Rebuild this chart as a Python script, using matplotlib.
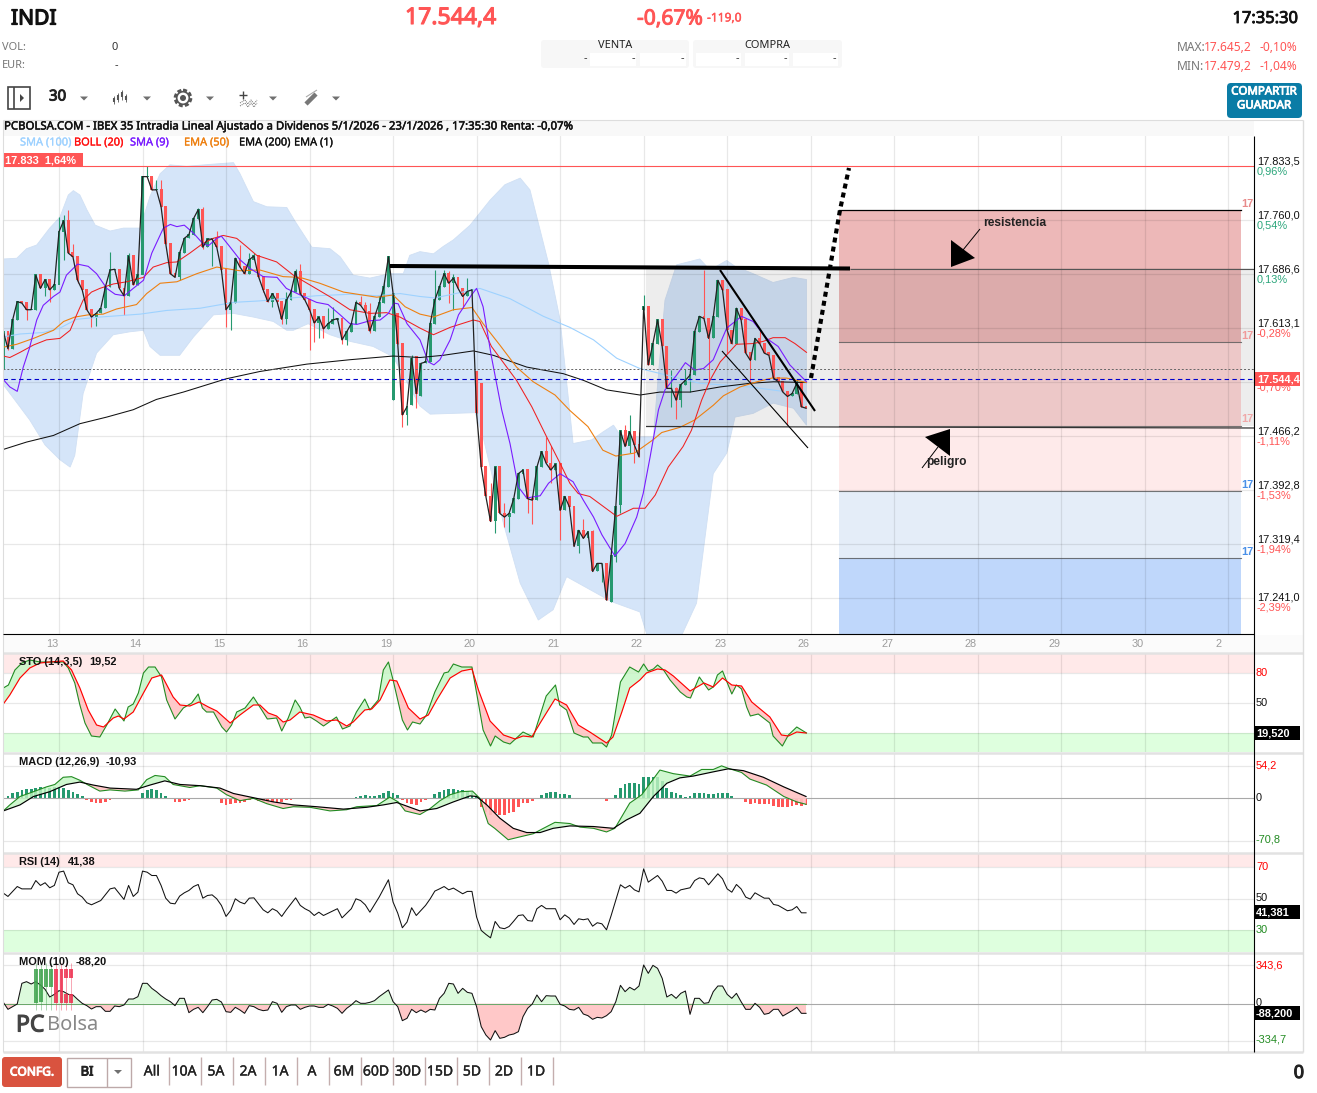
import numpy as np
import matplotlib
matplotlib.use('Agg')
import matplotlib.pyplot as plt
import matplotlib.patheffects as pe
from matplotlib.patches import FancyBboxPatch, Polygon, Rectangle, Circle

W, H = 1317, 1093
plt.rcParams['font.family'] = ['Liberation Sans', 'DejaVu Sans']

# closes per 30 min bar, 18 bars a day
closes = [17608, 17585, 17624, 17649, 17647, 17638, 17638, 17685, 17667, 17679,
          17665, 17672, 17744, 17759, 17715, 17710, 17678, 17665, 17638, 17628,
          17633, 17640, 17669, 17692, 17693, 17667, 17657, 17711, 17672, 17685,
          17819, 17819, 17801, 17801, 17778, 17728, 17687, 17682, 17715, 17735,
          17740, 17762, 17774, 17723, 17734, 17734, 17723, 17692, 17638, 17647,
          17708, 17696, 17687, 17706, 17711, 17683, 17665, 17649, 17660, 17649,
          17625, 17651, 17662, 17690, 17660, 17651, 17638, 17620, 17628, 17612,
          17619, 17624, 17626, 17597, 17608, 17619, 17648, 17644, 17635, 17609,
          17628, 17647, 17669, 17710, 17660, 17592, 17495, 17506, 17572, 17524,
          17565, 17567, 17619, 17651, 17669, 17687, 17674, 17681, 17667, 17656,
          17663, 17665, 17497, 17424, 17384, 17350, 17424, 17361, 17356, 17361,
          17381, 17415, 17420, 17381, 17379, 17424, 17445, 17429, 17420, 17428,
          17365, 17384, 17370, 17316, 17338, 17327, 17336, 17282, 17293, 17293,
          17243, 17304, 17370, 17473, 17452, 17472, 17454, 17438, 17642, 17563,
          17592, 17624, 17588, 17531, 17531, 17515, 17536, 17542, 17549, 17608,
          17629, 17626, 17599, 17628, 17678, 17665, 17610, 17592, 17640, 17624,
          17579, 17569, 17599, 17592, 17579, 17576, 17545, 17540, 17526, 17520,
          17524, 17538, 17506, 17504]
gap_bars = [0, 84, 85, 88, 89, 90, 102, 103, 131, 132, 133, 138]
gap_opens = [17556, 17515, 17633, 17508, 17574, 17521, 17554, 17538, 17241, 17302, 17372, 17638]
hi_bars = [12, 13, 14, 15, 23, 25, 26, 27, 31, 33, 34, 42, 43, 45, 46, 51, 53, 54, 61, 63, 64,
           70, 71, 76, 77, 78, 79, 81, 82, 88, 93, 95, 96, 97, 100, 105, 108, 117, 118, 120,
           122, 125, 127, 134, 135, 137, 138, 144, 145, 147, 151, 160, 163, 167, 171]
hi_vals = [17764, 17767, 17774, 17728, 17716, 17694, 17666, 17715, 17833, 17814, 17814, 17776,
           17778, 17733, 17745, 17726, 17715, 17715, 17662, 17694, 17700, 17640, 17642, 17651,
           17656, 17649, 17647, 17656, 17678, 17576, 17692, 17692, 17690, 17687, 17681, 17402,
           17375, 17465, 17452, 17424, 17384, 17354, 17338, 17481, 17495, 17472, 17658, 17556,
           17533, 17558, 17692, 17622, 17610, 17547, 17542]
lo_bars = [1, 2, 5, 9, 10, 12, 13, 16, 19, 20, 26, 30, 38, 43, 45, 48, 49, 56, 58, 60, 61, 66,
           67, 68, 69, 73, 74, 79, 86, 87, 89, 96, 97, 99, 106, 108, 109, 113, 114, 118, 120,
           124, 129, 131, 132, 133, 135, 136, 144, 145, 146, 148, 152, 156, 161, 169]
lo_vals = [17583, 17585, 17624, 17656, 17649, 17701, 17706, 17674, 17614, 17616, 17631, 17744,
           17678, 17721, 17697, 17615, 17611, 17662, 17642, 17619, 17619, 17583, 17594, 17599,
           17599, 17592, 17590, 17606, 17479, 17481, 17504, 17647, 17638, 17640, 17334, 17343,
           17336, 17361, 17347, 17402, 17325, 17307, 17268, 17241, 17295, 17361, 17443, 17429,
           17506, 17490, 17506, 17526, 17538, 17579, 17538, 17481]

sma9_x = [0, 1.4, 3, 4.3, 5.6, 7.2, 8.6, 10.8, 12.2, 13.6, 16, 18.3, 20.1, 22.3, 24.1, 26.1, 28, 30.2, 32, 34.5,
          36, 37.4, 39, 41, 43, 44.2, 46, 47, 48.9, 51, 53.2, 56, 59, 61, 64, 67.5, 70, 72.6, 74.7, 76.2,
          79, 81.2, 83, 84.2, 85.1, 87, 89.8, 91.6, 92.8, 94.1, 96.3, 98.1, 100.9, 102, 103.4, 105.2, 107.4,
          109.2, 111, 112.8, 115.7, 117.5, 120, 122.8, 125, 127.2, 129, 131.8, 134, 136.5, 137.9, 139.4,
          141.2, 142.6, 145.1, 147, 149, 150.9, 153, 155.9, 159.1, 161.6, 164.5, 167, 169.5, 173.1]
sma9_y = [17543, 17533, 17527, 17560, 17585, 17624, 17644, 17656, 17662, 17685, 17700, 17697, 17687, 17667, 17659,
          17657, 17667, 17678, 17715, 17749, 17754, 17751, 17753, 17742, 17728, 17725, 17735, 17738, 17723, 17706,
          17694, 17683, 17682, 17667, 17658, 17648, 17645, 17631, 17619, 17618, 17623, 17624, 17633, 17647, 17646,
          17619, 17597, 17567, 17563, 17570, 17597, 17631, 17658, 17667, 17642, 17574, 17502, 17456, 17397, 17382,
          17385, 17402, 17415, 17404, 17379, 17356, 17332, 17303, 17320, 17356, 17388, 17438, 17502, 17529, 17549,
          17566, 17556, 17558, 17570, 17613, 17629, 17622, 17599, 17588, 17563, 17540]
boll_x = [0, 1.4, 3.6, 6.5, 9.3, 12.2, 14.4, 15.8, 17.2, 19, 20.8, 23.7, 26.6, 30.2, 32.3, 35.2, 37.4, 40.2, 43, 45.2,
          47.4, 50.3, 52.4, 54.6, 58.9, 62.5, 66, 71.1, 74.7, 79, 82.6, 85.5, 89.8, 92.7, 96.3, 101.3, 102.7, 105.2,
          110.6, 113.9, 117.1, 120, 122.1, 123.9, 126.4, 132.2, 135.8, 138.3, 140.5, 143.3, 146.5, 148.3, 150.5,
          152.3, 154.5, 158, 161.6, 163.8, 165.9, 168.5, 170.6, 173.1]
boll_y = [17575, 17573, 17580, 17590, 17597, 17599, 17610, 17631, 17651, 17662, 17667, 17673, 17676, 17682, 17696,
          17702, 17703, 17715, 17728, 17735, 17739, 17735, 17724, 17712, 17703, 17685, 17672, 17653, 17638, 17633,
          17634, 17628, 17613, 17604, 17614, 17624, 17622, 17588, 17542, 17506, 17465, 17429, 17402, 17388, 17384,
          17357, 17368, 17368, 17386, 17424, 17452, 17474, 17515, 17542, 17567, 17591, 17592, 17595, 17600, 17600,
          17592, 17580]
ema50_x = [0, 2.9, 6.5, 10.8, 13, 15.4, 18.3, 21.5, 24.4, 28.7, 30.9, 33.8, 37.4, 41.7, 46, 51, 55.3, 60.3, 63.9, 68.2,
           73.3, 80.5, 84, 86.6, 89.8, 92.7, 97, 101, 103.4, 107, 110.6, 114.2, 118.9, 122.1, 126, 129.2, 132, 136,
           140, 141.9, 145.8, 149, 153, 155.2, 158.8, 162.4, 165.6, 168.8, 173.1]
ema50_y = [17587, 17591, 17599, 17610, 17622, 17628, 17631, 17632, 17639, 17645, 17660, 17674, 17676, 17687, 17696,
           17691, 17692, 17683, 17682, 17674, 17662, 17655, 17658, 17642, 17632, 17628, 17638, 17641, 17619, 17590,
           17560, 17540, 17522, 17501, 17479, 17447, 17439, 17443, 17461, 17471, 17478, 17488, 17508, 17521, 17533,
           17540, 17545, 17545, 17539]
ema200_x = [0, 5, 10.8, 16.5, 22.3, 28, 33, 38.8, 48, 55.3, 65.4, 74.7, 84, 89.8, 94.8, 101.3, 105.6, 112.8, 120.7,
            125, 130, 137.2, 141.5, 148, 154.5, 161, 166, 173.1]
ema200_y = [17448, 17458, 17467, 17483, 17492, 17502, 17516, 17526, 17544, 17554, 17564, 17570, 17575, 17573, 17576,
            17582, 17576, 17560, 17551, 17542, 17529, 17522, 17526, 17526, 17533, 17538, 17540, 17539]
sma100_x = [0, 3.6, 8.6, 12.2, 15.8, 20.8, 29.5, 35.2, 42.4, 49.6, 55.3, 60.3, 67.5, 74.7, 80.5, 85.5, 89.8, 93,
            102.7, 109.2, 116.4, 122.1, 127.2, 132.2, 137.2, 143, 150.1, 160.9, 168]
sma100_y = [17601, 17605, 17607, 17613, 17625, 17628, 17632, 17637, 17640, 17648, 17650, 17653, 17657, 17659, 17657,
            17660, 17656, 17654, 17667, 17653, 17629, 17614, 17597, 17572, 17558, 17549, 17538, 17533, 17527]
upper_x = [0, 2.9, 5, 7.2, 10, 12.2, 14, 15.1, 16.5, 18, 19.8, 23, 25.9, 29.5, 31.6, 33.8, 35.9, 39.5, 45.3, 49.6, 51,
           53.9, 56.8, 61.1, 62.9, 66.5, 70.4, 72.6, 75.4, 79, 83.3, 86.2, 87.6, 89.8, 92.7, 94.8, 97, 100.6, 104.9,
           108.1, 111.4, 113.5, 115.7, 117.5, 120, 122.8, 126.8, 129.3, 131.5, 132.9, 135.8, 140.1, 141.2, 142.6,
           145.1, 150.1, 152.3, 155.9, 157.7, 161.6, 165.9, 170.3, 173.1]
upper_y = [17707, 17708, 17721, 17726, 17749, 17764, 17794, 17800, 17794, 17774, 17753, 17745, 17749, 17749, 17792,
           17823, 17835, 17833, 17836, 17838, 17823, 17785, 17778, 17777, 17758, 17723, 17721, 17710, 17685, 17681,
           17687, 17687, 17712, 17717, 17714, 17724, 17733, 17753, 17787, 17808, 17817, 17801, 17746, 17701, 17624,
           17456, 17461, 17472, 17481, 17468, 17465, 17465, 17551, 17651, 17699, 17707, 17692, 17705, 17697, 17687,
           17675, 17682, 17679]
lower_x = [0, 2.5, 5.7, 9, 12.2, 14.4, 15.4, 17.2, 20.1, 23.7, 27.3, 30.2, 31.6, 33.8, 38, 41, 45.3, 49.6, 53.9, 58.2,
           61.1, 62.5, 65.7, 70.4, 74.7, 79.7, 84, 89.8, 92, 101.7, 103.4, 107.8, 111.4, 115.3, 118.5, 121.4, 131.1,
           137.2, 139, 145.8, 149.4, 153, 155.9, 157.7, 161.6, 165.9, 170.3, 173.1]
lower_y = [17536, 17515, 17488, 17454, 17434, 17424, 17440, 17524, 17579, 17604, 17608, 17610, 17588, 17576, 17576,
           17601, 17631, 17633, 17628, 17622, 17610, 17610, 17619, 17604, 17595, 17588, 17574, 17507, 17496, 17498,
           17465, 17347, 17266, 17216, 17230, 17275, 17241, 17227, 17190, 17190, 17239, 17415, 17443, 17492, 17497,
           17511, 17504, 17481]

# fibonacci zones on the right and the lines of the price grid
zone_levels = [17773, 17594, 17480, 17391, 17300, 17197]
zone_colors = ['#edb8b8', '#ffd8d8', '#feeaea', '#e4edf8', '#bfd7fb']
grid_prices = [17760.0, 17686.6, 17613.1, 17539.7, 17466.2, 17392.8, 17319.4, 17246.0]
price_labels = ['17.833,5', '17.760,0', '17.686,6', '17.613,1', '', '17.466,2', '17.392,8', '17.319,4', '17.241,0']
pct_labels = ['0,96%', '0,54%', '0,13%', '-0,28%', '', '-1,11%', '-1,53%', '-1,94%', '-2,39%']
label_rows = [161, 215, 269, 323, 377, 431, 485, 539, 597]
day_names = ['13', '14', '15', '16', '19', '20', '21', '22', '23', '26', '27', '28', '29', '30', '2']

sto_k_x = [0, 1.1, 2.5, 4, 5.7, 7.9, 10, 12.9, 14, 15.4, 16.5, 17.6, 19, 20.8, 22.3, 24.1, 26, 26.9, 28, 29.1, 30.2,
           31.3, 32.7, 34.1, 35.2, 37, 38.8, 40.6, 42, 42.9, 43.8, 45.3, 47.1, 48.1, 49.2, 50.3, 52.1, 53.9, 55.7,
           56.9, 58.9, 60, 61.4, 62.9, 63.9, 65, 66.1, 67.5, 69, 71.8, 73.1, 74.7, 76.1, 77.9, 79, 80.8, 81.9, 83,
           84, 86, 87.1, 88.2, 89.8, 91.2, 93, 95, 95.9, 97, 98.8, 101, 102, 103.4, 105, 106, 107.8, 109.2, 110.6,
           112, 114.2, 117, 119, 119.9, 121.4, 123, 125, 126, 127, 129, 130, 131.1, 133, 135, 136.9, 138, 139, 140.1,
           141, 142.3, 143.7, 145.9, 147.3, 148.1, 150, 152, 153, 153.9, 155, 157, 158, 159.1, 160.2, 161, 162.7,
           165.2, 165.9, 167.9, 169.2, 171, 173.1]
sto_k_y = [65, 68, 83, 90, 93, 91, 91, 91, 85, 70, 48, 30, 17, 16, 28, 44, 32, 46, 49, 60, 80, 86, 86, 76, 53, 34, 45,
           50, 59, 45, 41, 41, 26, 21, 28, 41, 45, 56, 43, 34, 35, 22, 35, 53, 46, 35, 36, 32, 27, 36, 24, 27, 41, 54,
           43, 53, 83, 91, 73, 33, 23, 31, 29, 38, 61, 80, 81, 89, 86, 86, 60, 23, 7, 17, 11, 9, 15, 21, 16, 57, 68,
           48, 43, 20, 16, 16, 10, 10, 6, 18, 71, 86, 81, 89, 82, 84, 88, 83, 73, 61, 56, 55, 76, 63, 66, 78, 82, 59,
           68, 64, 46, 37, 39, 30, 17, 7, 18, 26, 20]
sto_d_x = [0, 1.4, 3.6, 5.7, 7.9, 10, 12.9, 14.7, 16.5, 18.3, 20.1, 21.6, 23.7, 24.8, 26, 28, 30.2, 32, 34.1, 36.6,
           38.1, 40.2, 42.2, 44.2, 46, 48.9, 51, 53.9, 55.3, 57.1, 58.9, 60.3, 61.8, 63.9, 66.8, 69.7, 71.8, 74, 75.4,
           77.9, 79.4, 81.2, 83.3, 84.8, 87.3, 89.8, 91.6, 93.4, 96.3, 98.8, 101, 102.4, 104.9, 107.8, 110.3, 112,
           113.9, 115.7, 118.9, 121.4, 123.9, 126.4, 130, 131.4, 133.3, 135, 137.2, 138.6, 141, 142.6, 144.4, 148,
           151, 153, 155, 157, 159.1, 161.3, 165.2, 167.7, 169.2, 171, 173]
sto_d_y = [49, 58, 75, 85, 90, 91, 92, 83, 65, 43, 28, 26, 35, 37, 34, 41, 60, 75, 78, 56, 48, 47, 51, 46, 42, 30, 38,
           48, 48, 40, 37, 31, 33, 41, 38, 32, 33, 27, 31, 43, 44, 53, 73, 72, 45, 34, 38, 53, 75, 82, 84, 63, 32, 18,
           14, 17, 16, 30, 54, 48, 28, 21, 10, 16, 41, 65, 73, 80, 84, 83, 77, 62, 70, 66, 75, 68, 67, 51, 36, 18, 17,
           21, 20]

macd_x = [0, 1.4, 3.6, 6.5, 9.3, 11.1, 12.9, 14.7, 16.5, 18.3, 20.8, 23, 26.2, 29.1, 30.9, 32.7, 34.8, 36.6, 40.2, 42.4,
          46, 48.1, 51, 53.9, 56.8, 60.3, 62.5, 66.1, 70.4, 74, 76.2, 80.5, 83.3, 85.1, 86.6, 89.8, 92, 94.1, 96.3,
          98.5, 101.1, 102.7, 104.5, 105.9, 108.8, 112, 114.2, 116.4, 118.9, 122.1, 124.3, 127.2, 130, 131.8, 135,
          137.6, 141.5, 144.4, 148, 150.5, 153, 154.8, 156.2, 159.1, 160.9, 164.5, 168.2, 171, 173]
macd_y = [-21, -11, 3, 11, 19, 23, 35, 36, 30, 22, 12, 14, 12, 14, 31, 38, 36, 23, 18, 21, 17, 6, -4, 0, -9, -17, -14,
          -15, -21, -19, -14, -12, 2, -6, -21, -27, -17, -4, 6, 11, 12, 0, -42, -50, -69, -63, -59, -50, -40, -42, -48,
          -50, -56, -50, -8, 6, 47, 41, 37, 48, 48, 54, 50, 43, 32, 22, 3, -6, -10]
signal_x = [0, 3.6, 6.5, 10, 13.6, 16.5, 19.4, 23, 28.7, 31.6, 34.8, 38.1, 42.4, 46.7, 49.6, 53.9, 58.2, 62.5, 67.5, 73.3,
            78.3, 81.9, 84.8, 89.8, 93.4, 97, 100.6, 102, 104.2, 107, 109.9, 112.8, 115.7, 118.5, 122.1, 127.2, 131.5,
            134.3, 137.2, 140.1, 143, 145.8, 148.7, 153, 156.2, 159.5, 163.8, 168.2, 173]
signal_y = [-21, -11, 3, 11, 23, 27, 22, 17, 15, 22, 29, 23, 21, 17, 8, 1, -6, -11, -14, -18, -15, -11, -7, -21, -17, -6,
            4, 3, -11, -33, -50, -57, -57, -50, -46, -47, -50, -36, -25, 3, 25, 34, 37, 44, 49, 46, 35, 19, 3]
macd_hist = [0, 4.4, 8.3, 11, 14, 15, 15, 17, 18, 18, 17, 18, 18, 17, 14, 11, 7, 3, -3, -6, -8, -8, -6, -3, -2, -1, -2,
             -0.5, -1, -0.5, 9, 13, 15, 13, 9, 3, -0.5, -6, -6, -4, -3, -1, -0.5, -0.5, -1, -1, -2, -7, -11, -10, -8, -7,
             -6, -3, -1, -4, -6, -7, -6, -6, -6, -3, -3, 0, 0, 0, -0.5, -1, -2, -1, -0.5, -0.5, 0, 0, -0.5, 0, 2, 4, 5,
             4, 3, 5, 9, 12, 8, 5, -3, -8, -9, -11, -6, -3, 0, 7, 11, 14, 16, 16, 14, 13, 12, 11, 3, -14, -22, -27, -25,
             -28, -28, -25, -22, -15, -8, -7, -4, -2, 6, 8, 10, 10, 7, 7, 6, 0, 0, 0, -0.5, -0.5, -0.5, -1, -4, -1, 6, 17,
             23, 25, 25, 24, 35, 35, 35, 35, 29, 17, 11, 9, 6, 2, 3, 8, 9, 8, 7, 7, 8, 9, 8, 4, 0, -1, -6, -9, -8, -9, -9,
             -10, -12, -14, -14, -14, -12, -11, -12, -11]

rsi_x = [0, 1, 3, 4, 6, 7, 8, 9, 10, 11, 12, 13, 14, 15, 16, 17, 18, 19, 21, 23, 24, 26, 27, 28, 29, 30, 31, 32, 33, 34,
         35, 36, 37, 38, 39, 40, 41, 42, 43, 44, 45, 46, 47, 48, 49, 50, 51, 52, 53, 54, 55, 56, 57, 58, 59, 60, 61, 63,
         64, 65, 66, 67, 68, 69, 72, 73, 75, 76, 77, 78, 79, 81, 83, 84, 85, 86, 87, 88, 89, 90, 91, 92, 93, 94, 95, 96,
         97, 99, 100, 101, 102, 103, 104, 105, 106, 107, 108, 109, 110, 111, 112, 113, 114, 115, 116, 117, 119, 120, 121,
         122, 123, 124, 125, 126, 127, 128, 129, 130, 131, 133, 134, 135, 136, 137, 138, 139, 141, 142, 143, 144, 145,
         146, 148, 149, 150, 151, 152, 154, 155, 156, 157, 158, 159, 160, 161, 162, 164, 165, 166, 167, 169, 170, 171,
         172, 173]
rsi_y = [53.6, 51.5, 57.8, 56.3, 56.3, 61.6, 58.5, 60.2, 57, 58.5, 66.9, 67.6, 60.2, 58.9, 53.2, 51.1, 47.5, 46.2, 48.9,
         56.3, 57, 49.6, 58.5, 51.5, 54.2, 67.6, 66.9, 64.8, 64.8, 58.5, 50.4, 47.2, 46.8, 51.7, 53.8, 55.3, 57.8, 59.1,
         50.4, 52.1, 52.5, 50, 45.8, 38.8, 42.6, 50, 47.9, 46.8, 50.4, 50.6, 46.8, 43, 41.1, 43.7, 42.2, 38.8, 43, 50.6,
         45.8, 43.7, 42.2, 39.4, 41.5, 39.4, 43.7, 37.9, 43.7, 50, 48.9, 46.2, 41.5, 51.1, 62.1, 47.9, 40.9, 31.6, 35.2,
         44.3, 39.4, 42.6, 45.8, 50, 54.9, 56.3, 57.8, 55.7, 56.8, 53.2, 54.7, 54.7, 38.4, 29.9, 27.4, 25.2, 35.6, 31.6,
         31, 32.4, 35.8, 39.4, 39.8, 36.2, 35.8, 43.7, 45.8, 43.7, 43.7, 36.7, 39.8, 37.7, 33.7, 37.3, 36.7, 37.3, 32.6,
         34.8, 34.1, 30.3, 39.4, 58.9, 56.8, 58.5, 55.7, 54.4, 69, 60.6, 64.8, 61.2, 55.3, 55.3, 53.6, 55.7, 57, 61.6,
         63.3, 62.7, 58.9, 65.9, 62.7, 56.3, 54.2, 59.1, 56.3, 51.1, 49.8, 53.8, 50.4, 50.4, 46.4, 45.8, 42.4, 43, 45.1,
         41.1, 41.1]

mom = [12, -51, -27, -3, 183, 198, 177, 198, 168, 129, 60, 84, 117, 108, 84, 78, 39, 3, -18, -48, -27, -27, -69, -69, -21,
       -27, -12, 42, 42, 63, 183, 183, 138, 108, 72, 42, 18, -18, 48, 48, -81, -51, -33, -81, -27, 33, 39, 15, -72, -78,
       -33, -57, -87, -18, -27, -51, -63, -57, 18, 3, -78, -27, -12, -12, -51, -33, -21, -21, -33, -33, -6, -21, -42, -87,
       -42, -12, 27, 3, 3, 12, 27, 63, 93, 123, 18, -27, -153, -132, -51, -81, -57, -78, -51, -57, 48, 93, 183, 177, 93,
       138, 102, 93, -27, -207, -282, -327, -243, -312, -303, -282, -273, -252, -117, -42, -3, 78, 18, 72, 69, 69, -6, -21,
       -51, -57, -33, -93, -108, -141, -123, -129, -108, -72, 18, 165, 108, 147, 123, 159, 348, 273, 345, 318, 228, 60, 84,
       48, 93, 114, -96, 48, 48, 3, 9, 108, 159, 159, 84, 48, 93, 18, -51, -51, 3, -33, -96, -87, -51, -51, -111, -87, -63,
       -33, -87, -87]

RED = '#ff5555'
GREEN = '#26996f'
GRID = (0, 0, 0, 0.09)
BAR_PX = 4.64
X0_PX = 3.32
bars = np.arange(len(closes))
day_bars = np.arange(12, 265, 18)
x_left = (3 - X0_PX) / BAR_PX
x_right = (1254 - X0_PX) / BAR_PX

fig = plt.figure(figsize=(W / 100, H / 100), dpi=100, facecolor='white')


def panel(top, bottom, ylim):
    ax = fig.add_axes([3 / W, 1 - bottom / H, 1251 / W, (bottom - top) / H])
    ax.set_xlim(x_left, x_right)
    ax.set_ylim(*ylim)
    ax.set_xticks([])
    ax.set_yticks([])
    for s in ax.spines.values():
        s.set_visible(False)
    for d in day_bars:
        ax.axvline(d, color=GRID, lw=0.9, zorder=2)
    return ax


def two_tone(ax, xs, ys, base_x, base_y):
    # green where the line is over its base, red where it is under
    grid = np.linspace(0, 173, 1400)
    a = np.interp(grid, xs, ys)
    b = np.interp(grid, base_x, base_y)
    ax.fill_between(grid, a, b, where=a >= b, color='#c4f7c4', alpha=0.8, lw=0, zorder=3)
    ax.fill_between(grid, a, b, where=a < b, color='#ffc4c4', alpha=0.9, lw=0, zorder=3)


# ---- main price pane
ax = panel(120, 634, (17197, 17896))
ax.fill(upper_x + lower_x[::-1], upper_y + lower_y[::-1], facecolor='#d5e5f9', edgecolor='#d0e0f4', lw=0.6, zorder=1)
for i, c in enumerate(zone_colors):
    ax.fill_between([180.1, 266.7], zone_levels[i + 1], zone_levels[i], color=c, lw=0, zorder=1)
for p in grid_prices:
    ax.axhline(p, color=GRID, lw=0.9, zorder=2)
ax.fill_between([138.5, x_right], 17480, 17695, color='black', alpha=0.07, lw=0, zorder=2.5)

opens = np.array([closes[0]] + closes[:-1], dtype=float)
opens[gap_bars] = gap_opens
cl = np.array(closes, dtype=float)
highs = np.maximum(opens, cl)
lows = np.minimum(opens, cl)
highs[hi_bars] = hi_vals
lows[lo_bars] = lo_vals
colors = [GREEN if c >= o else RED for o, c in zip(opens, cl)]
ax.vlines(bars, lows, highs, colors=colors, lw=0.8, zorder=4)
ax.bar(bars, np.abs(cl - opens) + 1, bottom=np.minimum(opens, cl), width=0.62, color=colors, lw=0, zorder=4)

ax.plot(sma100_x, sma100_y, color='#9ed2ff', lw=0.8, zorder=5)
ax.plot(ema200_x, ema200_y, color='#111111', lw=0.75, zorder=5)
ax.plot(ema50_x, ema50_y, color='#ee8011', lw=0.8, zorder=5)
ax.plot(boll_x, boll_y, color='#f02020', lw=0.75, zorder=5)
ax.plot(sma9_x, sma9_y, color='#7a1cff', lw=0.8, zorder=5)
ax.plot(bars, closes, color='#222222', lw=0.9, zorder=6)
ax.axhline(17833.5, color=RED, lw=0.8, zorder=5)
ax.axhline(17544.4, color='#0000cc', lw=0.8, ls=(0, (4, 3)), zorder=5)
ax.axhline(17557, color='#666666', lw=0.7, ls=(0, (2, 2)), zorder=5)
for lv in zone_levels[1:-1]:
    ax.plot([180.1, 266.7], [lv, lv], color='#555555', lw=0.8, alpha=0.8, zorder=5)
ax.plot([180.1, 266.7], [zone_levels[0]] * 2, color='black', lw=0.9, zorder=5)
for d, name in zip(day_bars, day_names):
    ax.text(d - (2.1 if name == '2' else 1.5), -0.0195, name, transform=ax.get_xaxis_transform(),
            ha='center', va='center', fontsize=7.8, color='#111111')

# ---- STO
ax_sto = panel(653, 752, (1, 100))
ax_sto.axhspan(80, 100, color='#ffe9e9', lw=0, zorder=1)
ax_sto.axhspan(1, 20, color='#deffde', lw=0, zorder=1)
for v in [80, 50, 20]:
    ax_sto.axhline(v, color=GRID, lw=0.9, zorder=2)
two_tone(ax_sto, sto_k_x, sto_k_y, sto_d_x, sto_d_y)
ax_sto.plot(sto_k_x, sto_k_y, color='#228b22', lw=0.8, zorder=4)
ax_sto.plot(sto_d_x, sto_d_y, color='#ff0000', lw=0.85, zorder=5)

# ---- MACD
ax_macd = panel(753, 852, (-89.4, 75.4))
for v in [54.2, -70.8]:
    ax_macd.axhline(v, color=GRID, lw=0.9, zorder=2)
ax_macd.bar(bars, macd_hist, width=0.58, color=[GREEN if v >= 0 else RED for v in macd_hist], lw=0, zorder=3)
ax_macd.axhline(0, color='#a8a8a8', lw=0.8, zorder=3)
two_tone(ax_macd, macd_x, macd_y, signal_x, signal_y)
ax_macd.plot(macd_x, macd_y, color='#228b22', lw=0.8, zorder=4)
ax_macd.plot(signal_x, signal_y, color='black', lw=0.85, zorder=5)

# ---- RSI
ax_rsi = panel(853, 952, (16.2, 79.1))
ax_rsi.axhspan(70, 79.1, color='#ffe9e9', lw=0, zorder=1)
ax_rsi.axhspan(16.2, 30, color='#deffde', lw=0, zorder=1)
for v in [70, 50, 30]:
    ax_rsi.axhline(v, color=GRID, lw=0.9, zorder=2)
ax_rsi.plot(rsi_x, rsi_y, color='#111111', lw=0.75, zorder=5)

# ---- MOM
ax_mom = panel(953, 1052, (-435, 456))
for v in [343.6, -334.7]:
    ax_mom.axhline(v, color=GRID, lw=0.9, zorder=2)
ax_mom.fill_between(bars, mom, 0, where=np.array(mom) >= 0, interpolate=True, color='#dcfadc', lw=0, zorder=3)
ax_mom.fill_between(bars, mom, 0, where=np.array(mom) < 0, interpolate=True, color='#ffc8c8', lw=0, zorder=3)
ax_mom.axhline(0, color='#a8a8a8', lw=0.8, zorder=3)
ax_mom.plot(bars, [0] * len(bars), color='#6aa86a', lw=0.7, zorder=4)
ax_mom.plot(bars, mom, color='#111111', lw=0.75, zorder=5)

# ---- overlay in pixels: page furniture, hand drawn lines and all labels
ov = fig.add_axes([0, 0, 1, 1], zorder=20)
ov.set_xlim(0, W)
ov.set_ylim(H, 0)
ov.axis('off')
ov.patch.set_alpha(0)

HEAD = 'Noto Sans'


def t(x, y, s, px=11, color='black', ha='left', weight='normal', family=None, heavy=0):
    # Noto Sans only comes in one weight here, heavy thickens it with a stroke
    kw = {'family': family} if family else {}
    if family == HEAD:
        y = y + 1.5
    txt = ov.text(x, y, s, fontsize=px * 0.72, color=color, ha=ha, va='center', fontweight=weight, **kw)
    if heavy:
        txt.set_path_effects([pe.withStroke(linewidth=heavy, foreground=color)])
    return txt


def ln(xs, ys, color='black', lw=1.0, **kw):
    ov.plot(xs, ys, color=color, lw=lw, solid_capstyle=kw.pop('cap', 'butt'), **kw)


def rbox(x0, y0, x1, y1, fc, ec='none', r=3, lw=1.0):
    ov.add_patch(FancyBboxPatch((x0 + r, y0 + r), x1 - x0 - 2 * r, y1 - y0 - 2 * r,
                                boxstyle='round,pad=%d' % r, fc=fc, ec=ec, lw=lw))


def caret(x, y, color='#707070'):
    ov.add_patch(Polygon([(x - 4, y - 2), (x + 4, y - 2), (x, y + 2)], fc=color, ec='none'))


# header
t(11, 17.5, 'INDI', 21, '#111111', family=HEAD, heavy=0.9)
t(405, 16.5, '17.544,4', 23, RED, family=HEAD, heavy=0.8)
t(637, 17.5, '-0,67%', 21, RED, family=HEAD, heavy=0.7)
t(707, 16.5, '-119,0', 12, RED, family=HEAD, heavy=0.3)
t(1298, 17.5, '17:35:30', 16.5, '#111111', ha='right', family=HEAD, heavy=0.6)
t(2, 46, 'VOL:', 11, '#777777', family=HEAD)
t(2, 64.5, 'EUR:', 11, '#777777', family=HEAD)
t(115, 46, '0', 11, '#333333', ha='center', family=HEAD)
t(116, 64.5, '-', 11, '#333333', ha='center', family=HEAD)
rbox(541, 40, 689, 68, '#f7f7f7')
rbox(693, 40, 842, 68, '#f7f7f7')
for cell in [(590, 636), (640, 686), (696, 741), (745, 789), (793, 838)]:
    ov.add_patch(Rectangle((cell[0], 53), cell[1] - cell[0], 13, fc='white', ec='none'))
t(615, 44.5, 'VENTA', 11, '#222222', ha='center', family=HEAD)
t(767, 44.5, 'COMPRA', 11, '#222222', ha='center', family=HEAD)
for x in [585, 633, 682, 737, 785, 834]:
    t(x, 57.5, '-', 11, '#333333', ha='center', family=HEAD)
t(1177, 46, 'MAX:', 12, '#777777', family=HEAD)
t(1177, 64.5, 'MIN:', 12, '#777777', family=HEAD)
t(1252, 46, '17.645,2', 12, RED, ha='right', family=HEAD)
t(1252, 64.5, '17.479,2', 12, RED, ha='right', family=HEAD)
t(1297, 46, '-0,10%', 12, RED, ha='right', family=HEAD)
t(1297, 64.5, '-1,04%', 12, RED, ha='right', family=HEAD)

# toolbar
ov.add_patch(Rectangle((8, 87), 22, 22, fc='white', ec='#444444', lw=1.2))
ln([14, 14], [87, 109], '#444444', 1.2)
ov.add_patch(Polygon([(20, 94), (20, 102), (24, 98)], fc='#444444'))
t(49, 95.5, '30', 15, '#222222', family=HEAD, heavy=0.7)
for x in [84, 147, 210, 273, 336]:
    caret(x, 98.5)
for x, a, b, c, d in [(114, 96, 104, 98, 102), (118, 93, 102, 95, 100), (122, 90, 100, 92, 97), (126, 94, 102, 96, 100)]:
    ln([x, x], [a, b], '#555555', 0.6)
    ln([x, x], [c, d], '#555555', 1.5)
ov.add_patch(Circle((183, 98), 7.5, fc='white', ec='#555555', lw=2.6, ls=(0, (1.1, 0.55))))
ov.add_patch(Circle((183, 98), 6.3, fc='white', ec='#555555', lw=1.2))
ov.add_patch(Circle((183, 98), 3.0, fc='#555555', ec='none'))
ln([243, 243], [91, 99], '#444444', 1.0)
ln([239, 247], [95, 95], '#444444', 1.0)
ln([240, 245, 248, 251, 254, 257], [103, 100, 104, 100, 104, 100], '#666666', 0.7, ls=(0, (1, 1)))
ln([240, 245, 248, 251, 254, 257], [106, 103, 107, 103, 107, 103], '#666666', 0.7, ls=(0, (1, 1)))
ln([306, 316], [104, 94], '#777777', 3.2)
ln([306, 317], [97, 90], '#aaaaaa', 0.8)
rbox(1227, 83, 1302, 118, '#0a7ca6', r=4)
t(1264, 90.5, 'COMPARTIR', 11.5, 'white', ha='center', family=HEAD, heavy=0.6)
t(1264, 104.5, 'GUARDAR', 11.5, 'white', ha='center', family=HEAD, heavy=0.6)

# title strip
ov.add_patch(Rectangle((3, 120), 1251, 16, fc='#f8f8f8', ec='none', zorder=0.5))
t(4, 125.5, 'PCBOLSA.COM - IBEX 35 Intradia Lineal Ajustado a Dividenos 5/1/2026 - 23/1/2026 , 17:35:30 Renta: -0,07%',
  11.4, '#111111', family=HEAD, heavy=0.35)
t(20, 141.5, 'SMA (100)', 11, '#9ed2ff', family=HEAD, heavy=0.2)
t(74, 141.5, 'BOLL (20)', 11, '#ff1010', family=HEAD, heavy=0.2)
t(130, 141.5, 'SMA (9)', 11, '#7a1cff', family=HEAD, heavy=0.2)
t(184, 141.5, 'EMA (50)', 11, '#ee8011', family=HEAD, heavy=0.2)
t(239, 141.5, 'EMA (200)', 11, '#111111', family=HEAD, heavy=0.2)
t(294, 141.5, 'EMA (1)', 11, '#111111', family=HEAD, heavy=0.2)
ov.add_patch(Rectangle((3, 153), 80, 14, fc=RED, ec='none'))
t(5, 160.5, '17.833  1,64%', 11, 'white', weight='bold')

# hand drawn lines on the price pane
ln([390, 850], [266, 268.5], 'black', 2.9)
ln([850, 1254], [268.5, 268.5], '#555555', 0.8)
ln([646, 1254], [426.5, 428], '#333333', 0.9)
ln([720, 815], [270, 411], 'black', 1.5)
ln([722, 808], [351, 448], 'black', 0.8)
ln([811, 840, 849], [378, 210, 168], 'black', 3.0, ls=(0, (1.2, 1.0)))
ov.add_patch(Polygon([(951, 240), (951, 267), (975, 258)], fc='black', ec='none'))
ln([980, 963], [229, 250], 'black', 0.7)
ov.add_patch(Polygon([(925, 437), (950, 429), (950, 456)], fc='black', ec='none'))
ln([922, 938], [468, 447], 'black', 0.7)
t(983, 223, 'resistencia', 12, '#222222', weight='bold')
t(926, 462.5, 'peligro', 12, '#222222', weight='bold')

# fibonacci tags cut off at the axis
for y, s, c in [(204, '17', '#e88a8a'), (336, '17', '#f09a9a'), (419, '17', '#f0a8a8'),
                (485, '17', '#4a90e8'), (552, '17', '#4a90e8')]:
    t(1241, y, s, 11, c, weight='bold')

# price scale
for y, s, p in zip(label_rows, price_labels, pct_labels):
    if s:
        t(1257, y, s, 11, '#111111')
        up = not p.startswith('-')
        t(1257, y + 10, p, 11, '#2aa57a' if up else RED)
t(1257, 387, '-0,70%', 11, RED)
ov.add_patch(Rectangle((1254, 372), 46, 14, fc=RED, ec='none'))
t(1257, 379.5, '17.544,4', 11, 'white', weight='bold')

# pane labels and scales
t(19, 662, 'STO (14,3,5)', 11, '#111111', weight='bold')
t(89, 662, '19,52', 11, '#111111', weight='bold')
t(19, 762, 'MACD (12,26,9)', 11, '#111111', weight='bold')
t(106, 762, '-10,93', 11, '#111111', weight='bold')
t(19, 862, 'RSI (14)', 11, '#111111', weight='bold')
t(68, 862, '41,38', 11, '#111111', weight='bold')
t(19, 962, 'MOM (10)', 11, '#111111', weight='bold')
t(76, 962, '-88,20', 11, '#111111', weight='bold')
for y, s, c in [(673, '80', '#ff0000'), (703, '50', '#111111'), (765, '54,2', '#ff0000'), (798, '0', '#111111'),
                (840, '-70,8', '#228b22'), (867, '70', '#ff0000'), (898, '50', '#111111'), (930, '30', '#228b22'),
                (965, '343,6', '#ff0000'), (1003, '0', '#111111'), (1040, '-334,7', '#228b22')]:
    t(1256, y, s, 11, c)
for y, s in [(733, '19,520'), (912, '41,381'), (1013, '-88,200')]:
    ov.add_patch(Rectangle((1254, y - 7), 46, 14, fc='black', ec='none'))
    t(1256, y + 0.5, s, 11, 'white', weight='bold')

# frames of the panes
for y in [652.5, 752.5, 852.5, 952.5, 1052]:
    ln([3, 1303], [y, y], '#e2e2e2', 1.8)
ln([2.5, 2.5], [120, 1052], '#dddddd', 0.8)
ln([1303, 1303], [120, 1052], '#dddddd', 1.0)
ln([3, 1303], [120, 120], '#dddddd', 0.8)
ln([1254.3, 1254.3], [136, 1052], 'black', 0.8)
ln([3, 1254], [634, 634], 'black', 0.8)
ov.add_patch(Rectangle((3, 635), 1300, 16.5, fc='#f9f9f9', ec='none', zorder=0.5, alpha=0.6))

# logo
for x0, x1, tops, bots, c in [(34, 38, [969], [1003], '#3fa34d'), (39, 43, [969], [1002], '#3fa34d'),
                              (44, 48, [969], [987], '#3fa34d'), (49, 53, [969], [987], '#3fa34d'),
                              (54, 58, [969], [1003], '#ee3050'), (59.5, 63, [969], [1003], '#ee3050'),
                              (64, 68, [969, 994], [978, 1003], '#ee3050'), (69, 73, [969, 994], [978, 1003], '#ee3050')]:
    xc = (x0 + x1) / 2
    ln([xc, xc], [963, 1010], c, 0.5, alpha=0.6)
    for a, b in zip(tops, bots):
        ov.add_patch(Rectangle((x0, a), x1 - x0, b - a, fc=c, ec='none', alpha=0.85))
t(16, 1024, 'PC', 23, '#444444', family=HEAD, heavy=0.8)
t(47, 1024, 'Bolsa', 20, '#888888', family=HEAD)

# bottom bar
rbox(2, 1057, 62, 1087, '#d9533f', r=3)
t(32, 1070.5, 'CONFG.', 12, 'white', ha='center', family=HEAD, heavy=0.7)
ov.add_patch(Rectangle((66.5, 1057.5), 64, 29, fc='white', ec='#bda9a9', lw=1.0))
ln([106.5, 106.5], [1057.5, 1086.5], '#bda9a9', 1.0)
t(87, 1070.5, 'BI', 13, '#222222', ha='center', family=HEAD, heavy=0.7)
caret(118, 1072)
periods = ['All', '10A', '5A', '2A', '1A', 'A', '6M', '60D', '30D', '15D', '5D', '2D', '1D']
for k, name in enumerate(periods):
    t(152 + 32 * k, 1070.5, name, 14, '#222222', ha='center', family=HEAD, heavy=0.25)
    ln([168.5 + 32 * k] * 2, [1057, 1085], '#c4aeae', 1.0)
t(1304, 1071.5, '0', 18, '#222222', ha='right', family=HEAD, heavy=0.8)

fig.savefig('out.png', dpi=100, facecolor='white')
